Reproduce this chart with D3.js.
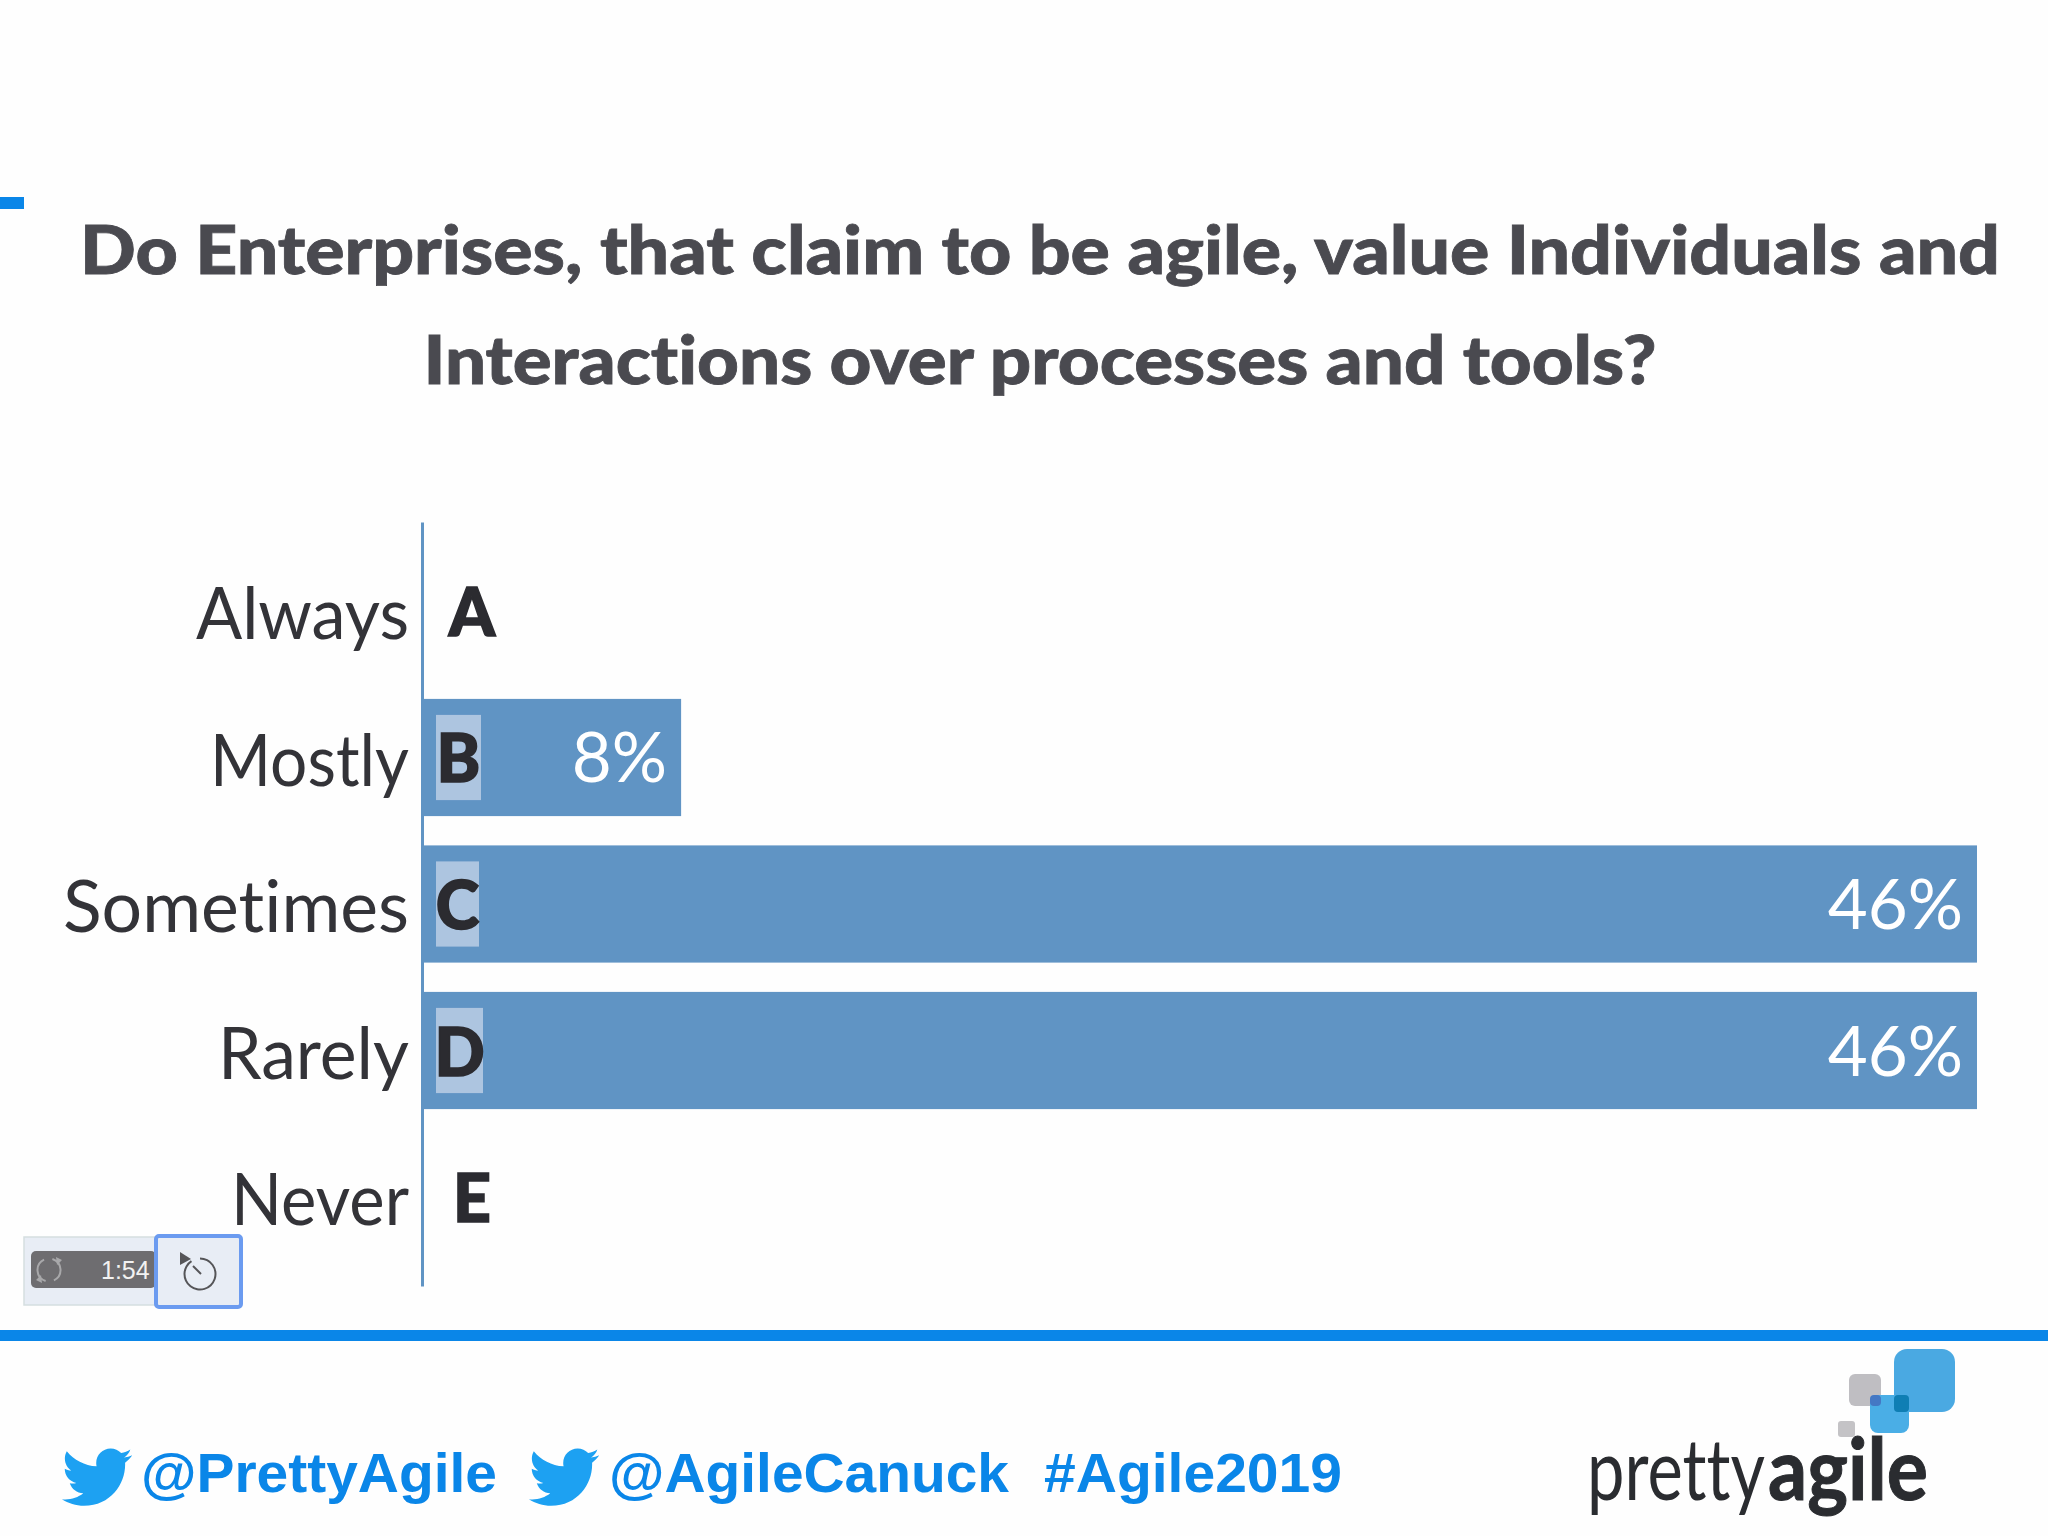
<!DOCTYPE html>
<html><head><meta charset="utf-8">
<script src="https://cdn.jsdelivr.net/npm/d3@7"></script>
<style>html,body{margin:0;padding:0;background:#fefefe}svg{display:block}text{font-variant-ligatures:none;font-feature-settings:"liga" 0}</style>
</head><body><div id="c"></div>
<script>
const titleLines = ["Do Enterprises, that claim to be agile, value Individuals and","Interactions over processes and tools?"];
const categories = ["Always","Mostly","Sometimes","Rarely","Never"];
const letters = ["A","B","C","D","E"];
const percentValues = [0,7.69,46.15,46.15,0];
const valueLabels = ["","8%","46%","46%",""];
const handles = ["@PrettyAgile","@AgileCanuck","#Agile2019"];
const birdPath = "M23.643 4.937c-.835.37-1.732.62-2.675.733.962-.576 1.7-1.49 2.048-2.578-.9.534-1.897.922-2.958 1.13-.85-.904-2.06-1.47-3.4-1.47-2.572 0-4.658 2.086-4.658 4.66 0 .364.042.718.12 1.06-3.873-.195-7.304-2.05-9.602-4.868-.4.69-.63 1.49-.63 2.342 0 1.616.823 3.043 2.072 3.878-.764-.025-1.482-.234-2.11-.583v.06c0 2.257 1.605 4.14 3.737 4.568-.392.106-.803.162-1.227.162-.3 0-.593-.028-.877-.082.593 1.85 2.313 3.198 4.352 3.234-1.595 1.25-3.604 1.995-5.786 1.995-.376 0-.747-.022-1.112-.065 2.062 1.323 4.51 2.093 7.14 2.093 8.57 0 13.255-7.098 13.255-13.254 0-.2-.005-.402-.014-.602.91-.658 1.708-1.477 2.323-2.41z";

const svg = d3.select("#c").append("svg").attr("width",2048).attr("height",1536);
svg.append("rect").attr("width",2048).attr("height",1536).attr("fill","#fefefe");

const FONT = "Lato, 'Open Sans', sans-serif";
const BARC = "#6094c4";

// top-left dash
svg.append("rect").attr("x",0).attr("y",197).attr("width",24).attr("height",12).attr("fill","#0a86e8");

// title
svg.selectAll("text.title").data(titleLines).join("text").attr("class","title")
  .attr("x",1040).attr("y",(d,i)=>i?384:274)
  .attr("text-anchor","middle").attr("font-family",FONT).attr("font-weight",900)
  .attr("font-size",67).attr("fill","#4a4a50").attr("stroke","#4a4a50").attr("stroke-width",0.8)
  .attr("textLength",(d,i)=>i?1233:1920).attr("lengthAdjust","spacingAndGlyphs").text(d=>d);

// scales
const x = d3.scaleLinear().domain([0,46.15]).range([422,1977]);
const y = d3.scaleBand().domain(categories).range([522,1286]).paddingInner(0.2).paddingOuter(0.2075);

// bars
svg.selectAll("rect.bar").data(categories).join("rect").attr("class","bar")
  .attr("x",x(0)).attr("y",d=>y(d)).attr("height",y.bandwidth())
  .attr("width",(d,i)=>x(percentValues[i])-x(0)).attr("fill",BARC);

// axis
const axis = svg.append("g").attr("transform","translate(422,0)").call(d3.axisLeft(y).tickSize(0).tickPadding(13));
axis.select(".domain").attr("stroke",BARC).attr("stroke-width",3);
const labelW = [213,199,346,191,178];
axis.selectAll("text").attr("font-family",FONT).attr("font-size",71).attr("fill","#333338").attr("dy","0.4em")
  .attr("font-weight",400).attr("textLength",(d,i)=>labelW[i]).attr("lengthAdjust","spacingAndGlyphs");

// letter chips
const chipW = {B:45,C:43,D:47};
svg.selectAll("rect.chip").data(categories.filter((d,i)=>percentValues[i]>0)).join("rect").attr("class","chip")
  .attr("x",x(0)+14).attr("y",d=>y(d)+16).attr("height",y.bandwidth()-32)
  .attr("width",d=>chipW[letters[categories.indexOf(d)]]).attr("fill","#adc5e0");
svg.selectAll("text.letter").data(categories).join("text").attr("class","letter")
  .attr("x",(d,i)=>percentValues[i]>0?x(0)+14+chipW[letters[i]]/2:x(0)+50)
  .attr("y",d=>y(d)+y.bandwidth()/2+25)
  .attr("text-anchor","middle").attr("font-family",FONT).attr("font-weight",900)
  .attr("font-size",66).attr("fill","#2b2b30").attr("stroke","#2b2b30").attr("stroke-width",1.6).text((d,i)=>letters[i]);

// value labels
svg.selectAll("text.val").data(categories).join("text").attr("class","val")
  .attr("x",(d,i)=>x(percentValues[i])-14).attr("y",d=>y(d)+y.bandwidth()/2+25)
  .attr("text-anchor","end").attr("font-family",FONT).attr("font-size",69).attr("fill","#ffffff")
  .text((d,i)=>valueLabels[i]);

// timer widget
const w = svg.append("g");
w.append("rect").attr("x",24).attr("y",1237).attr("width",134).attr("height",68).attr("fill","#e8edf5").attr("stroke","#d5dee0").attr("stroke-width",1.5);
w.append("rect").attr("x",31).attr("y",1251).attr("width",125).attr("height",37).attr("rx",5).attr("fill","#6e6d70");
w.append("rect").attr("x",156).attr("y",1236).attr("width",85).attr("height",71).attr("rx",3).attr("fill","#e8edf5").attr("stroke","#6b9bf0").attr("stroke-width",4);
w.append("text").attr("x",101).attr("y",1279).attr("font-family","Liberation Sans").attr("font-size",25).attr("fill","#f2f2f2").text("1:54");
const arc = d3.arc();
w.append("path").attr("transform","translate(49,1270)").attr("d",arc({innerRadius:10.5,outerRadius:12.5,startAngle:0.3,endAngle:2.7})+arc({innerRadius:10.5,outerRadius:12.5,startAngle:3.44,endAngle:5.84})).attr("fill","#a8a8aa");
w.append("path").attr("d","M56 1257l6 3l-5 5zM42 1283l-6-3l5-5z").attr("fill","#a8a8aa");
w.append("path").attr("transform","translate(200,1274)").attr("d",arc({innerRadius:14.5,outerRadius:16.5,startAngle:0,endAngle:5.7})).attr("fill","#555558");
w.append("line").attr("x1",193).attr("y1",1266).attr("x2",201).attr("y2",1274).attr("stroke","#555558").attr("stroke-width",2);
w.append("path").attr("d","M180 1252L191 1259L180 1265Z").attr("fill","#555558");

// bottom rule
svg.append("rect").attr("x",0).attr("y",1330).attr("width",2048).attr("height",11).attr("fill","#0a86e8");

// footer handles
const handleX=[141,609,1044], handleW=[356,400,298];
svg.selectAll("text.handle").data(handles).join("text").attr("class","handle")
  .attr("x",(d,i)=>handleX[i]).attr("y",1492).attr("font-family","'Liberation Sans', Arial, sans-serif")
  .attr("font-weight",700).attr("font-size",56).attr("fill","#0a86e8")
  .attr("textLength",(d,i)=>handleW[i]).attr("lengthAdjust","spacingAndGlyphs").text(d=>d);
[[59,1440],[526,1440]].forEach(p=>{
  svg.append("path").attr("d",birdPath).attr("fill","#1da1f2")
    .attr("transform",`translate(${p[0]},${p[1]}) scale(3.1)`);
});

// logo
const logo = svg.append("g");
const sq=(x0,y0,w0,h0,r,c)=>logo.append("rect").attr("x",x0).attr("y",y0).attr("width",w0).attr("height",h0).attr("rx",r).attr("fill",c);
sq(1849,1374,32,32,6,"#bfbec2");
sq(1894,1349,61,63,13,"#4aa9e2");
sq(1870,1395,39,38,8,"#4aaee6");
sq(1894,1395,15,17,4,"#0f7eb4");
sq(1870,1395,11,11,4,"#4478c4");
sq(1838,1421,17,16,3,"#c4c3c6");
const fitText=(str,x0,width,weight)=>{
  const t=logo.append("text").attr("font-family",FONT).attr("font-size",86).attr("font-weight",weight)
    .attr("fill","#2a2c30").text(str);
  const natural=t.node().getComputedTextLength();
  t.attr("transform",`translate(${x0},1500) scale(${width/natural},1)`);
  return t;
};
fitText("pretty",1587,178,400);
fitText("agile",1768,160,700).attr("stroke","#2a2c30").attr("stroke-width",1);
</script></body></html>
